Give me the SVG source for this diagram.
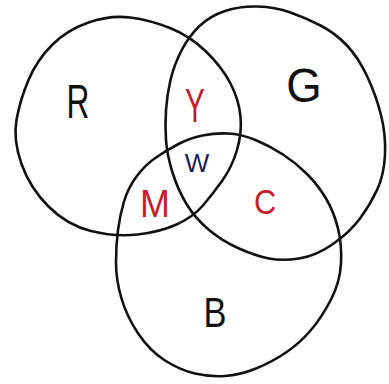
<svg xmlns="http://www.w3.org/2000/svg" width="389" height="384" viewBox="0 0 389 384">
<style>
.ring{fill:none;stroke:#111;stroke-width:2.6;stroke-linejoin:round;stroke-linecap:round}
.lbl{font-family:"Liberation Sans","DejaVu Sans",sans-serif;text-anchor:middle;fill:#111}
.red{fill:#c41e2a}
.navy{fill:#1c1f5a}
</style>
<rect width="389" height="384" fill="#fff"/>
<g id="set-R">
<path class="ring" d="M88.5,22.5 Q110,15 130,17.5 Q150,20 170,28 Q190,36 206,51.5 Q222,67 230.5,83.5 Q239,100 240.5,116.5 Q242,133 237,150 Q232,167 222,181 Q212,195 202.5,206 Q193,217 176.5,224.5 Q160,232 137.5,234.5 Q115,237 91,231 Q67,225 48.5,206.5 Q30,188 21.5,164 Q13,140 16.5,120 Q20,100 28.5,80 Q37,60 52,45 Q67,30 88.5,22.5 Z"/>
<text class="lbl" font-size="48" transform="translate(78,118) scale(0.66,1)">R</text>
</g>
<g id="set-G">
<path class="ring" d="M225,11 Q240,6 257.5,6.5 Q275,7 290.5,12.5 Q306,18 320.5,25.5 Q335,33 346.5,45 Q358,57 367,76 Q376,95 381,115 Q386,135 385,155 Q384,175 377,190 Q370,205 360,218.5 Q350,232 333,244 Q316,256 299,258.5 Q282,261 269,258.5 Q256,256 239,248.5 Q222,241 208.5,229.5 Q195,218 186.5,204 Q178,190 172.5,172.5 Q167,155 166,140 Q165,125 166,110 Q167,95 170.5,80 Q174,65 181.5,50.5 Q189,36 199.5,26 Q210,16 225,11 Z"/>
<text class="lbl" font-size="48" transform="translate(304,102) scale(0.95,1)">G</text>
</g>
<g id="set-B">
<path class="ring" d="M202.5,135.5 Q215,133 228,133.5 Q241,134 255.5,140 Q270,146 283,154.5 Q296,163 307,174 Q318,185 326,198.5 Q334,212 338,228.5 Q342,245 341,263.5 Q340,282 331,299.5 Q322,317 311,330 Q300,343 286,352.5 Q272,362 256,368.5 Q240,375 225,376 Q210,377 195,373.5 Q180,370 165,360.5 Q150,351 138.5,334 Q127,317 121.5,298.5 Q116,280 116,262.5 Q116,245 118,230 Q120,215 124,201.5 Q128,188 136.5,176.5 Q145,165 156,157.5 Q167,150 178.5,144 Q190,138 202.5,135.5 Z"/>
<text class="lbl" font-size="42" transform="translate(215,327) scale(0.82,1)">B</text>
</g>
<g id="region-Y">
<text class="lbl red" font-size="48" transform="translate(195,122) scale(0.62,1)">Y</text>
</g>
<g id="region-W">
<text class="lbl navy" font-size="26" transform="translate(197,172)">W</text>
</g>
<g id="region-M">
<text class="lbl red" font-size="39" transform="translate(155,217) scale(0.92,1)">M</text>
</g>
<g id="region-C">
<text class="lbl red" font-size="35" transform="translate(265,214) scale(0.88,1)">C</text>
</g>
<g id="connectors"/>
</svg>
